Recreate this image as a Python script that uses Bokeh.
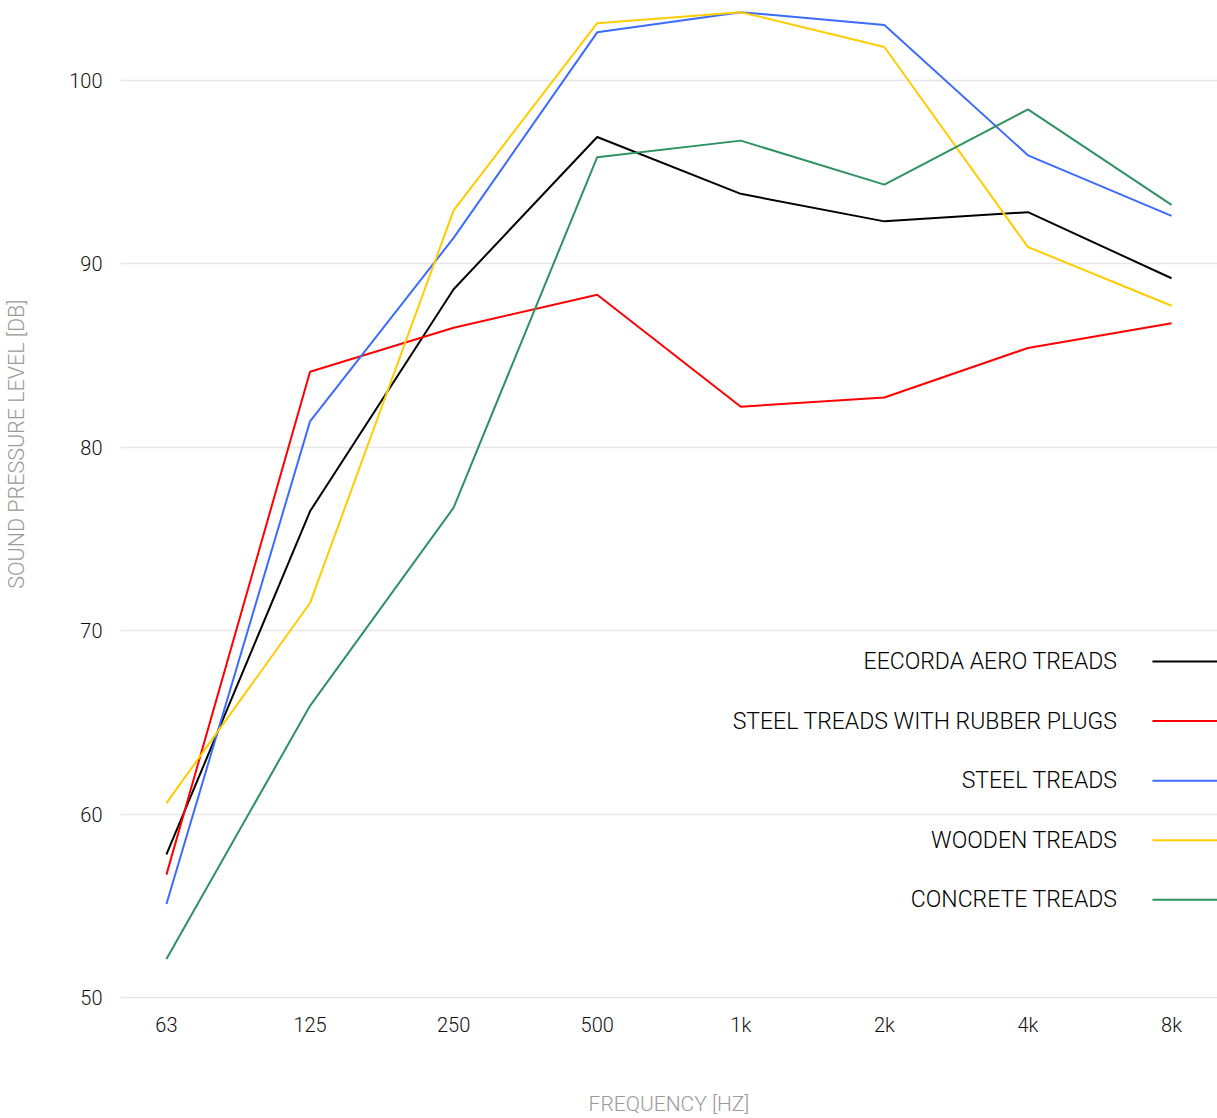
import math
from bokeh.plotting import figure
from bokeh.layouts import row
from bokeh.models import Range1d, FixedTicker, ColumnDataSource
from bokeh.core.properties import value
from bokeh.embed import file_html
from bokeh.resources import INLINE

# ---- data ----
frequencies = ["63", "125", "250", "500", "1k", "2k", "4k", "8k"]
series_names = [
    "EECORDA AERO TREADS",
    "STEEL TREADS WITH RUBBER PLUGS",
    "STEEL TREADS",
    "WOODEN TREADS",
    "CONCRETE TREADS",
]
eecorda_aero = [57.8, 76.5, 88.6, 96.9, 93.8, 92.3, 92.8, 89.2]
steel_rubber = [56.7, 84.1, 86.5, 88.3, 82.2, 82.7, 85.4, 86.75]
steel = [55.1, 81.4, 91.4, 102.6, 103.7, 103.0, 95.9, 92.6]
wooden = [60.6, 71.5, 92.9, 103.1, 103.7, 101.8, 90.9, 87.7]
concrete = [52.1, 65.9, 76.7, 95.8, 96.7, 94.3, 98.4, 93.2]
y_ticks = [50, 60, 70, 80, 90, 100]
x_title = "FREQUENCY [HZ]"
y_title = "SOUND PRESSURE LEVEL [DB]"

series_values = [eecorda_aero, steel_rubber, steel, wooden, concrete]
colors = ["#000000", "#ff0000", "#3b6bff", "#ffcc00", "#2e9160"]

FONT = "Roboto Light"
H = 1118
LW = 32  # width of the strip holding the vertical axis title

# ---- strip with the y-axis title ----
side = figure(
    width=LW, height=H, x_range=Range1d(0, LW), y_range=Range1d(0, H),
    x_axis_type=None, y_axis_type=None, output_backend="svg",
    toolbar_location=None, min_border=0,
)
side.outline_line_color = None
side.xgrid.grid_line_color = None
side.ygrid.grid_line_color = None
side.text(x=[LW / 2], y=[H - 445 - 46], text=[y_title], angle=math.pi / 2,
          text_align="center", text_baseline="middle", text_font=value(FONT),
          text_font_size="21.5px", text_color="#9a9a9a")

# ---- main chart ----
p = figure(
    width=1217 - LW, height=H,
    x_range=Range1d(-0.32, 7.32),
    y_range=Range1d(49.84, 103.9),
    output_backend="svg", toolbar_location=None,
    min_border_left=120 - LW, min_border_right=0, min_border_top=8, min_border_bottom=118,
)
p.outline_line_color = None
p.background_fill_color = "white"

xs = list(range(len(frequencies)))
for vals, col in zip(series_values, colors):
    p.line(xs, vals, line_color=col, line_width=2)

p.xaxis.ticker = FixedTicker(ticks=xs)
p.xaxis.major_label_overrides = {i: f for i, f in enumerate(frequencies)}
p.yaxis.ticker = FixedTicker(ticks=y_ticks)
for ax in (p.xaxis, p.yaxis):
    ax.axis_line_color = None
    ax.major_tick_line_color = None
    ax.minor_tick_line_color = None
    ax.major_label_text_font = FONT
    ax.major_label_text_font_size = "20px"
    ax.major_label_text_color = "#111111"
p.xaxis.major_label_standoff = 6
p.yaxis.major_label_standoff = 12
p.xaxis.axis_label = x_title
p.xaxis.axis_label_text_font = FONT
p.xaxis.axis_label_text_font_size = "21px"
p.xaxis.axis_label_text_font_style = "normal"
p.xaxis.axis_label_text_color = "#9a9a9a"
p.xaxis.axis_label_standoff = 52

p.xgrid.grid_line_color = None
p.ygrid.grid_line_color = "#e6e6e6"
p.ygrid.grid_line_width = 1.5

# legend (labels right, line swatches at the right edge)
leg_y0 = 68.31
leg_step = 3.245
leg_ys = [leg_y0 - i * leg_step for i in range(len(series_names))]
leg_src = ColumnDataSource(dict(
    x=[6.623] * len(series_names), y=leg_ys, text=series_names,
    x0=[6.867] * len(series_names), x1=[7.32] * len(series_names), c=colors,
))
p.text(x="x", y="y", text="text", source=leg_src, text_align="right",
       text_baseline="middle", text_font=value(FONT), text_font_size="23px",
       text_color="#000000")
p.segment(x0="x0", y0="y", x1="x1", y1="y", source=leg_src, line_color="c", line_width=2)

layout = row(side, p)
open("out.html", "w").write(file_html(layout, INLINE))
